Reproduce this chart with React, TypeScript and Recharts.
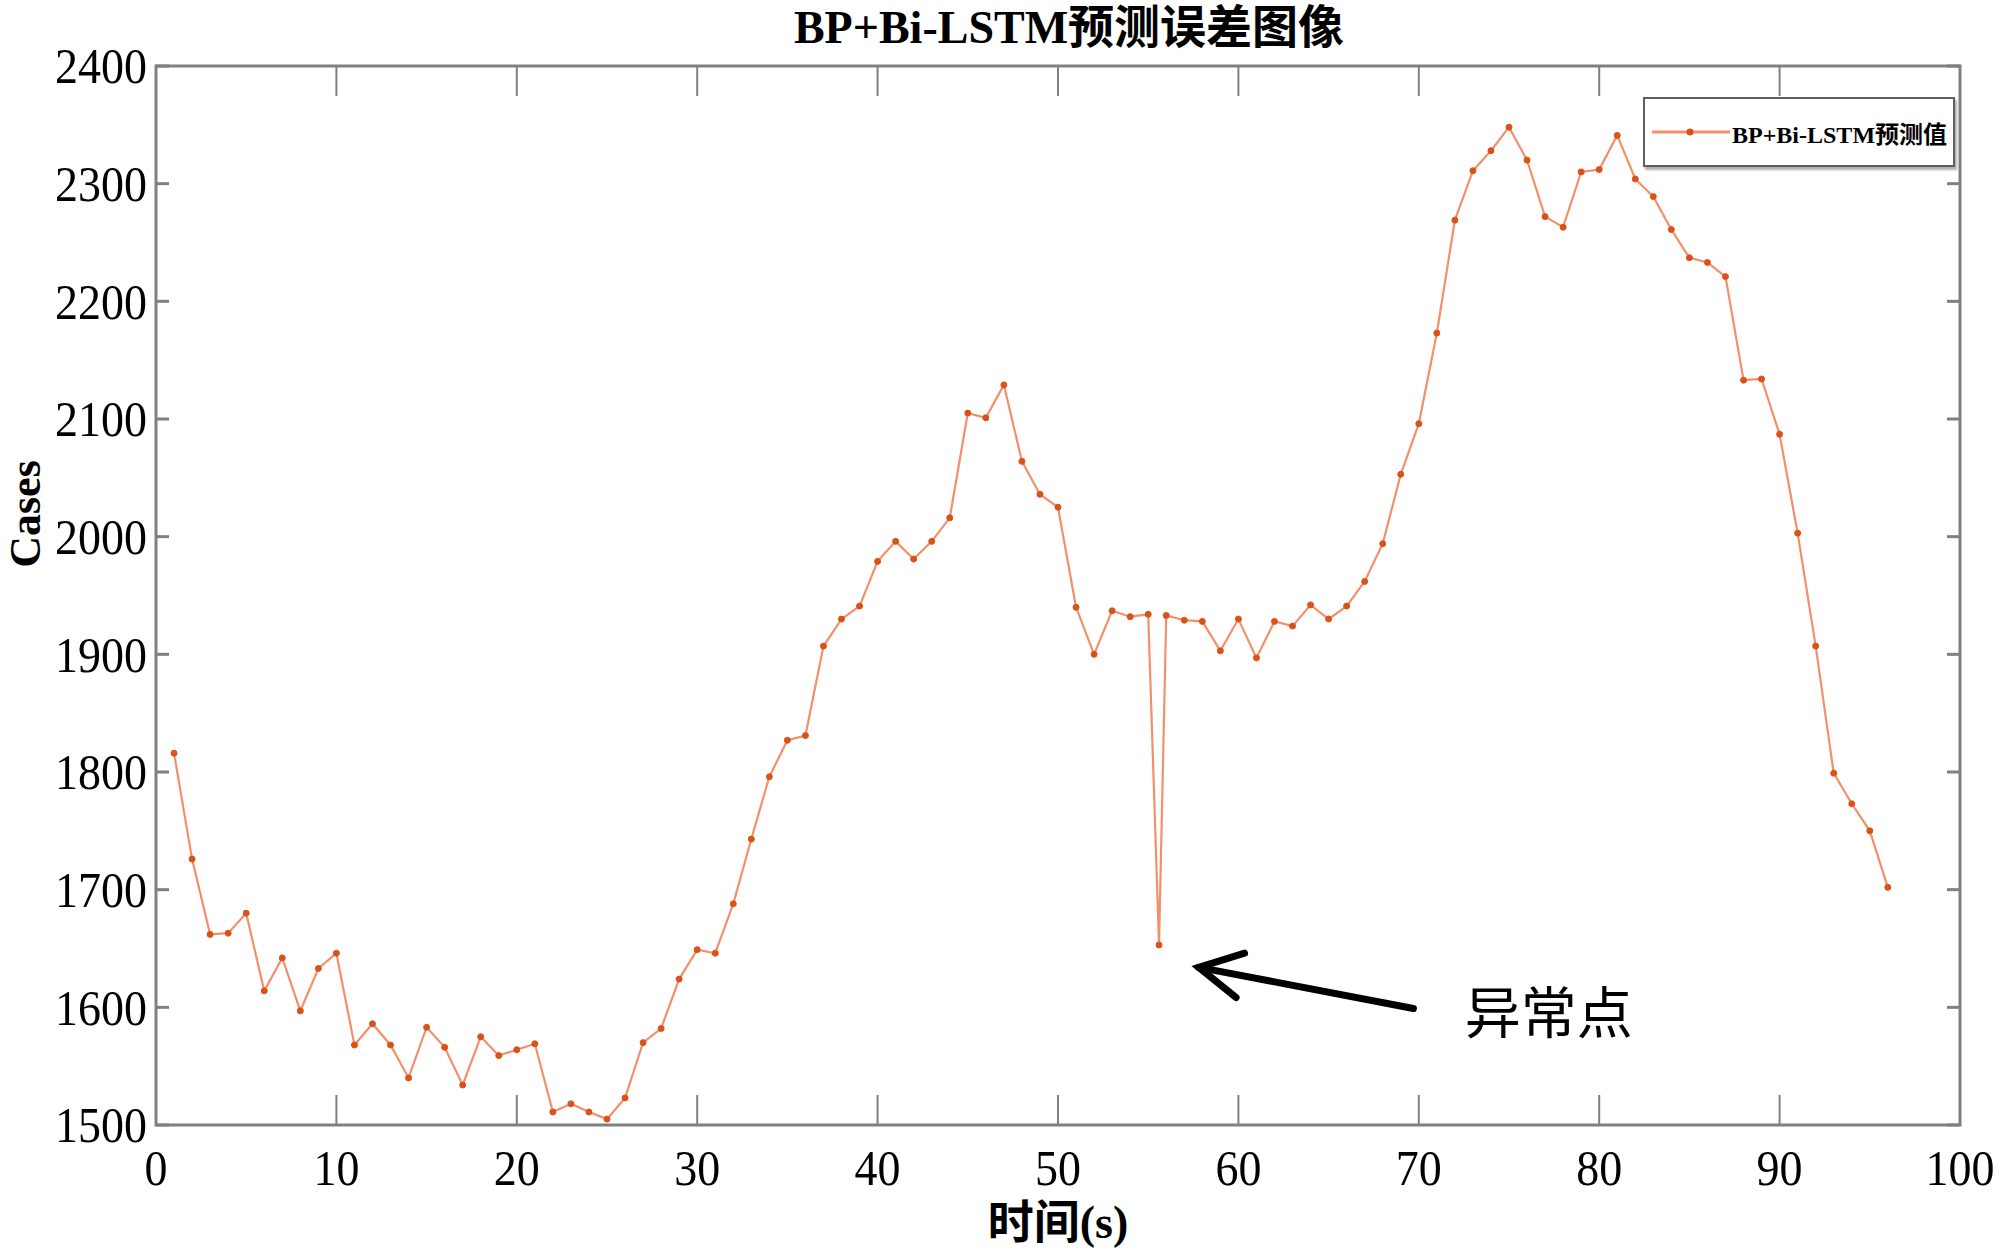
import { Legend, Line, LineChart, ReferenceArea, ReferenceDot, ReferenceLine, XAxis, YAxis } from "recharts"

// time steps (s); the anomaly sits between 55 and 56
const timeSteps = [
  1, 2, 3, 4, 5, 6, 7, 8, 9, 10, 11, 12, 13, 14, 15, 16, 17, 18, 19, 20,
  21, 22, 23, 24, 25, 26, 27, 28, 29, 30, 31, 32, 33, 34, 35, 36, 37, 38, 39, 40,
  41, 42, 43, 44, 45, 46, 47, 48, 49, 50, 51, 52, 53, 54, 55, 55.6, 56, 57, 58, 59,
  60, 61, 62, 63, 64, 65, 66, 67, 68, 69, 70, 71, 72, 73, 74, 75, 76, 77, 78, 79,
  80, 81, 82, 83, 84, 85, 86, 87, 88, 89, 90, 91, 92, 93, 94, 95, 96,
]

const predicted = [
  1816, 1726, 1662, 1663, 1680, 1614, 1642, 1597, 1633, 1646, 1568, 1586, 1568, 1540, 1583, 1566, 1534, 1575, 1559, 1564,
  1569, 1511, 1518, 1511, 1505, 1523, 1570, 1582, 1624, 1649, 1646, 1688, 1743, 1796, 1827, 1831, 1907, 1930, 1941, 1979,
  1996, 1981, 1996, 2016, 2105, 2101, 2129, 2064, 2036, 2025, 1940, 1900, 1937, 1932, 1934, 1653, 1933, 1929, 1928, 1903,
  1930, 1897, 1928, 1924, 1942, 1930, 1941, 1962, 1994, 2053, 2096, 2173, 2269, 2311, 2328, 2348, 2320, 2272, 2263, 2310,
  2312, 2341, 2304, 2289, 2261, 2237, 2233, 2221, 2133, 2134, 2087, 2003, 1907, 1799, 1773, 1750, 1702,
]

const xTicks = [0, 10, 20, 30, 40, 50, 60, 70, 80, 90, 100]
const yTicks = [1500, 1600, 1700, 1800, 1900, 2000, 2100, 2200, 2300, 2400]

const seriesName = "BP+Bi-LSTM预测值"
const chartTitle = "BP+Bi-LSTM预测误差图像"
const xLabel = "时间(s)"
const yLabel = "Cases"
const anomalyText = "异常点"

// arrow from the note back to the anomaly
const arrowTail = { x: 69.7, y: 1599 }
const arrowTip = { x: 57.8, y: 1634 }
const notePos = { x: 77.2, y: 1594 }

const W = 2000
const H = 1251
const PLOT_LEFT = 156
const PLOT_RIGHT = 1960
const PLOT_TOP = 66
const PLOT_BOTTOM = 1125
const AXIS_COLOR = "#808080"
const LINE_COLOR = "#F2906C"
const DOT_COLOR = "#D95319"
const FONT = '"Liberation Serif", "Noto Sans CJK SC", serif'

const data = timeSteps.map((t, i) => ({ t, value: predicted[i] }))

function XTick(props: any) {
  const { x, payload } = props
  return (
    <g>
      <line x1={x} x2={x} y1={PLOT_BOTTOM} y2={PLOT_BOTTOM - 30} stroke={AXIS_COLOR} strokeWidth={2} />
      <line x1={x} x2={x} y1={PLOT_TOP} y2={PLOT_TOP + 30} stroke={AXIS_COLOR} strokeWidth={2} />
      <text
        transform={`translate(${x} 1168) scale(1 1.1)`}
        textAnchor="middle"
        dominantBaseline="central"
        fontFamily={FONT}
        fontSize={46}
        fill="#000"
      >
        {payload.value}
      </text>
    </g>
  )
}

function YTick(props: any) {
  const { y, payload } = props
  return (
    <g>
      <line x1={PLOT_LEFT} x2={PLOT_LEFT + 13} y1={y} y2={y} stroke={AXIS_COLOR} strokeWidth={3} />
      <line x1={PLOT_RIGHT} x2={PLOT_RIGHT - 13} y1={y} y2={y} stroke={AXIS_COLOR} strokeWidth={3} />
      <text
        transform={`translate(147 ${y}) scale(1 1.12)`}
        textAnchor="end"
        dominantBaseline="central"
        fontFamily={FONT}
        fontSize={46}
        fill="#000"
      >
        {payload.value}
      </text>
    </g>
  )
}

function Arrow(props: any) {
  const { x1, y1, x2, y2 } = props
  const ang = Math.atan2(y1 - y2, x1 - x2)
  const len = 48
  const spread = (28 * Math.PI) / 180
  const w1 = { x: x2 + len * Math.cos(ang - spread), y: y2 + len * Math.sin(ang - spread) }
  const w2 = { x: x2 + len * Math.cos(ang + spread), y: y2 + len * Math.sin(ang + spread) }
  return (
    <g stroke="#000" strokeWidth={7} strokeLinecap="round" fill="none">
      <line x1={x1} y1={y1} x2={x2} y2={y2} />
      <polyline points={`${w1.x},${w1.y} ${x2},${y2} ${w2.x},${w2.y}`} strokeLinejoin="miter" />
    </g>
  )
}

function NoteText(props: any) {
  const { cx, cy } = props
  return (
    <text x={cx} y={cy} textAnchor="middle" dominantBaseline="central" fontFamily={FONT} fontSize={56} fill="#000">
      {anomalyText}
    </text>
  )
}

function LegendBox() {
  return (
    <div
      style={{
        boxSizing: "border-box",
        width: 312,
        height: 70,
        border: "2px solid #5f5f5f",
        boxShadow: "2px 3px 2px #b0b0b0",
        background: "#fff",
        display: "flex",
        alignItems: "center",
        paddingLeft: 7,
      }}
    >
      <svg width={78} height={20} style={{ flexShrink: 0 }}>
        <line x1={0} x2={78} y1={10} y2={10} stroke={LINE_COLOR} strokeWidth={3} />
        <circle cx={38} cy={10} r={3.5} fill={DOT_COLOR} />
      </svg>
      <span style={{ fontFamily: FONT, fontSize: 24, fontWeight: "bold", whiteSpace: "nowrap", marginLeft: 2 }}>
        {seriesName}
      </span>
    </div>
  )
}

export default function App() {
  return (
    <div style={{ position: "absolute", left: 0, top: 0, width: W, height: H, background: "#fff" }}>
      <div
        style={{
          position: "absolute",
          left: 1069,
          top: 28,
          transform: "translate(-50%, -50%)",
          fontFamily: FONT,
          fontSize: 46,
          fontWeight: "bold",
          whiteSpace: "nowrap",
          lineHeight: 1,
        }}
      >
        {chartTitle}
      </div>
      <LineChart width={W} height={H} data={data} margin={{ top: PLOT_TOP, right: W - PLOT_RIGHT, bottom: 0, left: 0 }}>
        <XAxis
          dataKey="t"
          type="number"
          domain={[0, 100]}
          ticks={xTicks}
          height={H - PLOT_BOTTOM}
          axisLine={false}
          tickLine={false}
          tick={<XTick />}
          interval={0}
          label={() => (
            <text
              x={PLOT_LEFT + (PLOT_RIGHT - PLOT_LEFT) / 2}
              y={1222}
              textAnchor="middle"
              dominantBaseline="central"
              fontFamily={FONT}
              fontSize={46}
              fontWeight="bold"
            >
              {xLabel}
            </text>
          )}
        />
        <YAxis
          type="number"
          domain={[1500, 2400]}
          ticks={yTicks}
          width={PLOT_LEFT}
          axisLine={false}
          tickLine={false}
          tick={<YTick />}
          interval={0}
          label={() => (
            <text
              x={25}
              y={514}
              transform="rotate(-90 25 514)"
              textAnchor="middle"
              dominantBaseline="central"
              fontFamily={FONT}
              fontSize={44}
              fontWeight="bold"
            >
              {yLabel}
            </text>
          )}
        />
        <ReferenceArea x1={0} x2={100} y1={1500} y2={2400} fill="none" fillOpacity={0} stroke={AXIS_COLOR} strokeWidth={3} />
        <Line
          type="linear"
          dataKey="value"
          name={seriesName}
          stroke={LINE_COLOR}
          strokeWidth={2.2}
          dot={{ r: 3, fill: DOT_COLOR, stroke: DOT_COLOR, strokeWidth: 1 }}
          activeDot={false}
          isAnimationActive={false}
        />
        <ReferenceLine segment={[arrowTail, arrowTip]} shape={<Arrow />} />
        <ReferenceDot x={notePos.x} y={notePos.y} r={0} shape={<NoteText />} />
        <Legend
          layout="horizontal"
          verticalAlign="middle"
          align="center"
          content={() => <LegendBox />}
          wrapperStyle={{ top: 97, left: 1643, width: 312, height: 70 }}
        />
      </LineChart>
    </div>
  )
}
